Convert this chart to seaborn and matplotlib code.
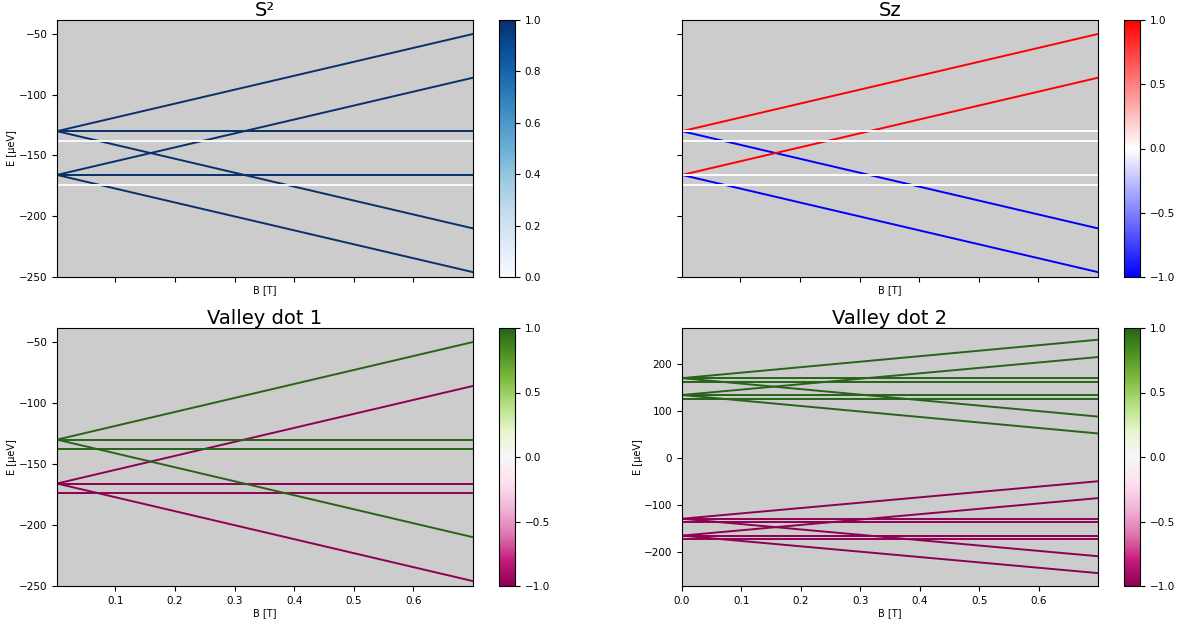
import numpy as np
import pandas as pd
import seaborn as sns
import matplotlib.pyplot as plt
import matplotlib as mpl

# field range (start, end) for each level line
B_ends = [0.0, 0.7]
B_start_low = 0.002

# lower 8 states (T and S for the two valley branches)
E0_low = [-130, -130, -130, -138, -166, -166, -166, -174]
E1_low = [-50, -130, -210, -138, -86, -166, -246, -174]
S2_low = [1, 1, 1, 0, 1, 1, 1, 0]
Sz_low = [1, 0, -1, 0, 1, 0, -1, 0]
valley1_low = [1, 1, 1, 1, -1, -1, -1, -1]
valley2_low = [-1, -1, -1, -1, -1, -1, -1, -1]

# upper 8 states (only seen in the valley dot 2 panel)
E0_high = [170, 170, 170, 161, 134, 134, 134, 125]
E1_high = [252, 170, 88, 161, 215, 134, 52, 125]
valley2_high = [1, 1, 1, 1, 1, 1, 1, 1]

label_fs = 7
tick_fs = 7.5
title_fs = 14
bg = '#cccccc'


def make_df(E0, E1, vals, b0):
    rows = []
    for i in range(len(E0)):
        rows.append({'state': i, 'B': b0, 'E': E0[i], 'val': vals[i]})
        rows.append({'state': i, 'B': B_ends[1], 'E': E1[i], 'val': vals[i]})
    return pd.DataFrame(rows)


def draw(ax, cax, df, cmap, vmin, vmax, title, cticks, white_on_top=False):
    ax.set_facecolor(bg)
    if white_on_top:
        parts = [df[df['val'] != 0], df[df['val'] == 0]]
    else:
        parts = [df]
    for part in parts:
        sns.lineplot(data=part, x='B', y='E', hue='val', units='state',
                     estimator=None, palette=cmap, hue_norm=(vmin, vmax),
                     legend=False, lw=1.4, sort=False, ax=ax)
    sm = mpl.cm.ScalarMappable(norm=mpl.colors.Normalize(vmin, vmax), cmap=cmap)
    cb = plt.colorbar(sm, cax=cax, ticks=cticks)
    cb.ax.tick_params(labelsize=tick_fs)
    ax.set_title(title, fontsize=title_fs, pad=3)
    ax.set_xlabel('B [T]', fontsize=label_fs, labelpad=2)
    ax.set_ylabel('E [μeV]', fontsize=label_fs, labelpad=1)
    ax.tick_params(labelsize=tick_fs)


fig = plt.figure(figsize=(11.86, 6.25), dpi=100)
W, H = 1186, 625


def box(x0, x1, y0, y1):
    return [x0 / W, 1 - y1 / H, (x1 - x0) / W, (y1 - y0) / H]


ax_s2 = fig.add_axes(box(57, 473, 20, 277))
cax_s2 = fig.add_axes(box(499, 515, 20, 277))
ax_sz = fig.add_axes(box(682, 1098, 20, 277))
cax_sz = fig.add_axes(box(1124, 1140, 20, 277))
ax_v1 = fig.add_axes(box(57, 473, 328, 586))
cax_v1 = fig.add_axes(box(499, 515, 328, 586))
ax_v2 = fig.add_axes(box(682, 1098, 328, 586))
cax_v2 = fig.add_axes(box(1124, 1140, 328, 586))

df_s2 = make_df(E0_low, E1_low, S2_low, B_start_low)
df_sz = make_df(E0_low, E1_low, Sz_low, B_start_low)
df_v1 = make_df(E0_low, E1_low, valley1_low, B_start_low)
df_v2 = make_df(E0_low + E0_high, E1_low + E1_high, valley2_low + valley2_high, B_ends[0])
df_v2['state'] = np.repeat(np.arange(16), 2)

pm_ticks = [-1.0, -0.5, 0.0, 0.5, 1.0]
draw(ax_s2, cax_s2, df_s2, 'Blues', 0, 1, 'S²', [0, 0.2, 0.4, 0.6, 0.8, 1.0], white_on_top=True)
draw(ax_sz, cax_sz, df_sz, 'bwr', -1, 1, 'Sz', pm_ticks, white_on_top=True)
draw(ax_v1, cax_v1, df_v1, 'PiYG', -1, 1, 'Valley dot 1', pm_ticks)
draw(ax_v2, cax_v2, df_v2, 'PiYG', -1, 1, 'Valley dot 2', pm_ticks)

low_yticks = [-250, -200, -150, -100, -50]
for ax in [ax_s2, ax_sz, ax_v1]:
    ax.set_xlim(B_start_low, B_ends[1])
    ax.set_ylim(-250, -38.5)
    ax.set_xticks([0.1, 0.2, 0.3, 0.4, 0.5, 0.6])
    ax.set_yticks(low_yticks)
ax_v2.set_xlim(B_ends[0], B_ends[1])
ax_v2.set_ylim(-273.5, 277)
ax_v2.set_xticks([0.0, 0.1, 0.2, 0.3, 0.4, 0.5, 0.6])
ax_v2.set_yticks([-200, -100, 0, 100, 200])

for ax in [ax_s2, ax_sz]:
    ax.tick_params(labelbottom=False)
ax_sz.tick_params(labelleft=False)
ax_sz.set_ylabel('')

fig.savefig('out.png', dpi=100)
